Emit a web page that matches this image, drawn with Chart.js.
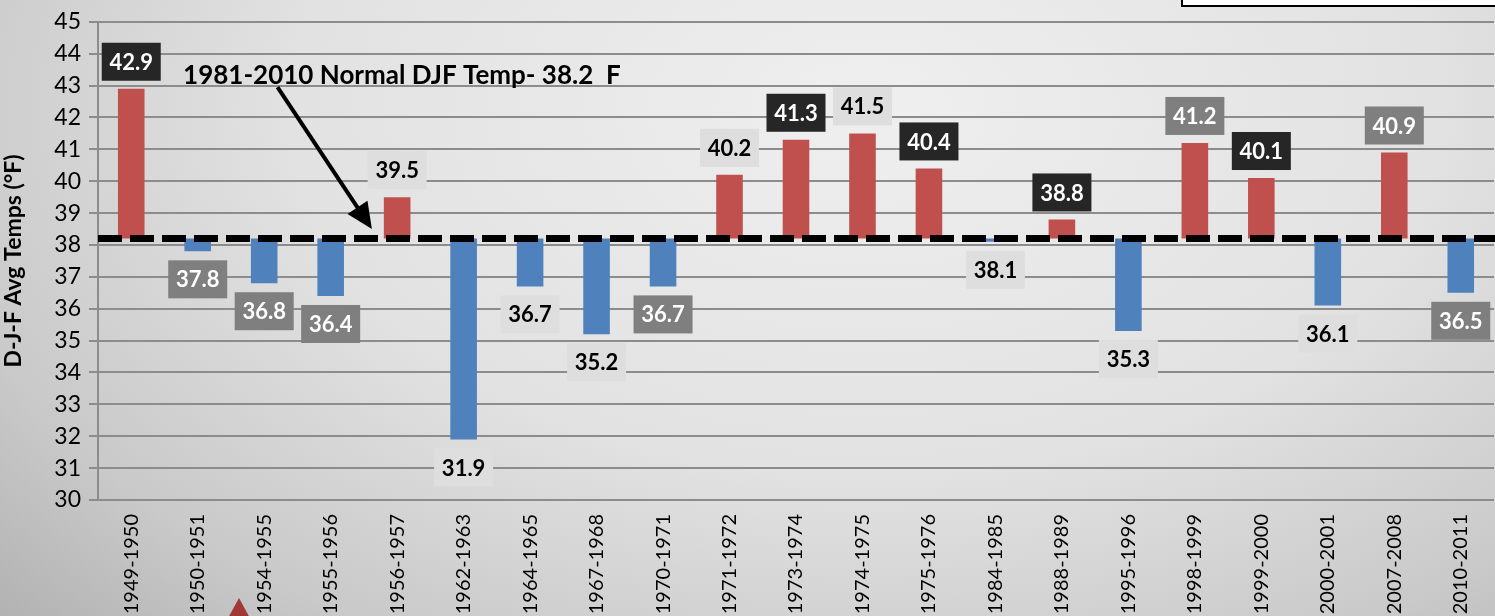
<!DOCTYPE html>
<html lang="en">
<head>
  <meta charset="UTF-8">
  <title>D-J-F Avg Temps</title>
  <script src="https://cdn.jsdelivr.net/npm/chart.js"></script>
  <style>
    html, body { margin: 0; padding: 0; }
    body {
      width: 1495px; height: 616px; overflow: hidden;
      background: radial-gradient(ellipse 85% 130% at 58% 18%, #efefef 0%, #e2e2e2 45%, #c9c9c9 75%, #a9a9a9 100%);
      font-family: Lato, "Open Sans", sans-serif;
    }
    #wrap { position: relative; width: 1495px; height: 616px; }
  </style>
</head>
<body>
<div id="wrap"><canvas id="chart" width="1495" height="616"></canvas></div>

<script>
// winter seasons shown on the chart
const seasons = ["1949-1950","1950-1951","1954-1955","1955-1956","1956-1957","1962-1963",
  "1964-1965","1967-1968","1970-1971","1971-1972","1973-1974","1974-1975","1975-1976",
  "1984-1985","1988-1989","1995-1996","1998-1999","1999-2000","2000-2001","2007-2008","2010-2011"];
// D-J-F average temperature (F)
const temps = [42.9, 37.8, 36.8, 36.4, 39.5, 31.9, 36.7, 35.2, 36.7, 40.2, 41.3, 41.5, 40.4,
  38.1, 38.8, 35.3, 41.2, 40.1, 36.1, 40.9, 36.5];
// label box style per season: d = dark, g = gray, l = light
const boxStyle = ["d","g","g","g","l","l","l","l","g","l","d","l","d","l","d","l","g","d","l","g","g"];
const normal = 38.2;
const yTicks = [30, 45];

const RED = "#c0504d", BLUE = "#4f81bd";
const boxFill = { d: "#262626", g: "#7f7f7f", l: "#dedede" };
const boxText = { d: "#ffffff", g: "#ffffff", l: "#000000" };
const FONT = "Lato, 'Open Sans', sans-serif";

const overlay = {
  id: "overlay",
  afterDatasetsDraw(chart) {
    const ctx = chart.ctx, x = chart.scales.x, y = chart.scales.y;
    const area = chart.chartArea;
    const yN = y.getPixelForValue(normal);

    // normal line
    ctx.save();
    ctx.strokeStyle = "#000";
    ctx.lineWidth = 7;
    ctx.setLineDash([24, 8]);
    ctx.beginPath();
    ctx.moveTo(area.left, yN);
    ctx.lineTo(chart.width, yN);
    ctx.stroke();
    ctx.restore();

    // value labels
    const meta = chart.getDatasetMeta(0);
    ctx.save();
    ctx.font = "bold 22px " + FONT;
    ctx.textAlign = "center";
    ctx.textBaseline = "middle";
    meta.data.forEach((bar, i) => {
      const v = temps[i];
      const w = 59, h = 38;
      const cx = bar.x;
      const above = v >= normal;
      const end = y.getPixelForValue(v);
      const top = above ? end - 8 - h : end + 9;
      ctx.fillStyle = boxFill[boxStyle[i]];
      ctx.fillRect(cx - w / 2, top, w, h);
      ctx.fillStyle = boxText[boxStyle[i]];
      ctx.fillText(v.toFixed(1), cx, top + h / 2 + 1);
    });
    ctx.restore();

    // annotation text + arrow
    ctx.save();
    ctx.font = "bold 26px " + FONT;
    ctx.fillStyle = "#000";
    ctx.textBaseline = "middle";
    ctx.fillText("1981-2010 Normal DJF Temp- 38.2  F", x.getPixelForValue(0.78), y.getPixelForValue(43.3));
    const x0 = x.getPixelForValue(2.2), y0 = y.getPixelForValue(42.95);
    const x1 = x.getPixelForValue(3.62), y1 = y.getPixelForValue(38.5);
    const ang = Math.atan2(y1 - y0, x1 - x0);
    ctx.strokeStyle = "#000";
    ctx.lineWidth = 4;
    ctx.beginPath();
    ctx.moveTo(x0, y0);
    ctx.lineTo(x1 - 18 * Math.cos(ang), y1 - 18 * Math.sin(ang));
    ctx.stroke();
    ctx.beginPath();
    ctx.moveTo(x1, y1);
    ctx.lineTo(x1 - 26 * Math.cos(ang) + 12 * Math.sin(ang), y1 - 26 * Math.sin(ang) - 12 * Math.cos(ang));
    ctx.lineTo(x1 - 26 * Math.cos(ang) - 12 * Math.sin(ang), y1 - 26 * Math.sin(ang) + 12 * Math.cos(ang));
    ctx.closePath();
    ctx.fill();

    // legend box edge peeking in at top right
    ctx.fillStyle = "#fff";
    ctx.fillRect(1182, -4, 320, 10);
    ctx.strokeStyle = "#000";
    ctx.lineWidth = 2;
    ctx.strokeRect(1182, -4, 320, 10);

    // red marker at bottom
    ctx.fillStyle = "#a23838";
    ctx.beginPath();
    ctx.moveTo(239, 598);
    ctx.lineTo(251, 620);
    ctx.lineTo(227, 620);
    ctx.closePath();
    ctx.fill();
    ctx.restore();
  }
};

new Chart(document.getElementById("chart"), {
  type: "bar",
  data: {
    labels: seasons,
    datasets: [{
      data: temps.map(v => [normal, v]),
      backgroundColor: temps.map(v => v >= normal ? RED : BLUE),
      barPercentage: 0.4,
      categoryPercentage: 1.0
    }]
  },
  options: {
    responsive: false,
    animation: false,
    layout: { padding: { top: 2, right: 1, left: 0, bottom: 0 } },
    plugins: { legend: { display: false }, tooltip: { enabled: false } },
    scales: {
      x: {
        grid: { display: false },
        border: { display: false },
        ticks: {
          color: "#000", minRotation: 90, maxRotation: 90, autoSkip: false, padding: 6,
          font: { family: FONT, size: 20 }
        },
        afterFit(s) { s.height = 116; }
      },
      y: {
        min: yTicks[0], max: yTicks[1],
        grid: { color: "#8c8c8c", lineWidth: 2, tickLength: 9 },
        border: { color: "#8c8c8c", width: 2 },
        ticks: {
          stepSize: 1, color: "#000", padding: 8,
          font: { family: FONT, size: 23 }
        },
        title: {
          display: true, text: "D-J-F Avg Temps (°F)", color: "#000", padding: 0,
          font: { family: FONT, size: 23, weight: "bold" }
        },
        afterFit(s) { s.width = 98; }
      }
    }
  },
  plugins: [overlay]
});
</script>
</body>
</html>
